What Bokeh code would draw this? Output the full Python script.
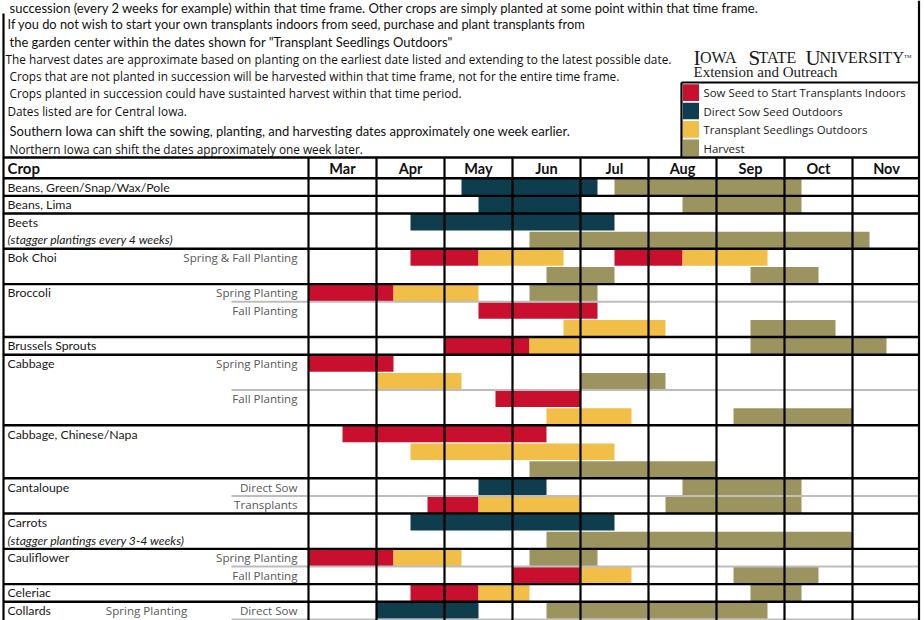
import numpy as np
from bokeh.plotting import figure
from bokeh.models import ColumnDataSource, Range1d
from bokeh.core.properties import value
from bokeh.embed import file_html
from bokeh.resources import INLINE

# ---------------- data ----------------
months = ["Mar", "Apr", "May", "Jun", "Jul", "Aug", "Sep", "Oct", "Nov"]
crops = ["Beans, Green/Snap/Wax/Pole", "Beans, Lima", "Beets", "Bok Choi", "Broccoli",
         "Brussels Sprouts", "Cabbage", "Cabbage, Chinese/Napa", "Cantaloupe", "Carrots",
         "Cauliflower", "Celeriac", "Collards"]
crop_rows = [1, 1, 2, 2, 3, 1, 4, 3, 2, 2, 2, 1, 2]

activities = ["Sow Seed to Start Transplants Indoors", "Direct Sow Seed Outdoors",
              "Transplant Seedlings Outdoors", "Harvest"]
activity_colors = ["#C8102E", "#0E3D4D", "#F1BE48", "#9B945F"]

sub_label_row = [4, 6, 7, 10, 12, 17, 18, 21, 22, 24]
sub_label_text = ["Spring & Fall Planting", "Spring Planting", "Fall Planting",
                  "Spring Planting", "Fall Planting", "Direct Sow", "Transplants",
                  "Spring Planting", "Fall Planting", "Direct Sow"]
season_row = [24]
season_text = ["Spring Planting"]
note_row = [3, 20]
note_text = ["(stagger plantings every 4 weeks)", "(stagger plantings every 3-4 weeks)"]
divider_row = [7, 12, 18, 22, 25]

# bars: sub-row, activity index, start / end in months after 1 March
bar_row = [0, 0, 1, 1, 2, 3,
           4, 4, 4, 4, 5, 5,
           6, 6, 6, 7, 8, 8,
           9, 9, 9,
           10, 11, 11, 12, 13, 13,
           14, 15, 16,
           17, 17, 18, 18, 18,
           19, 20,
           21, 21, 21, 22, 22, 22,
           23, 23, 23,
           24, 24]
bar_act = [1, 3, 1, 3, 1, 3,
           0, 2, 0, 2, 3, 3,
           0, 2, 3, 0, 2, 3,
           0, 2, 3,
           0, 2, 3, 0, 2, 3,
           0, 2, 3,
           1, 3, 0, 2, 3,
           1, 3,
           0, 2, 3, 0, 2, 3,
           0, 2, 3,
           1, 3]
bar_start = [2.25, 4.5, 2.5, 5.5, 1.5, 3.25,
             1.5, 2.5, 4.5, 5.5, 3.5, 6.5,
             0.0, 1.25, 3.25, 2.5, 3.75, 6.5,
             2.0, 3.25, 6.5,
             0.0, 1.0, 4.0, 2.75, 3.5, 6.25,
             0.5, 1.5, 3.25,
             2.5, 5.5, 1.75, 2.5, 5.25,
             1.5, 3.5,
             0.0, 1.25, 3.25, 3.0, 4.0, 6.25,
             1.5, 2.5, 6.5,
             1.0, 3.5]
bar_end = [4.25, 7.25, 4.0, 7.25, 4.5, 8.25,
           2.5, 3.75, 5.5, 6.75, 4.5, 7.5,
           1.25, 2.5, 4.25, 4.25, 5.25, 7.75,
           3.25, 4.0, 8.5,
           1.25, 2.25, 5.25, 4.0, 4.75, 8.0,
           3.5, 4.5, 6.0,
           3.5, 7.25, 2.5, 4.0, 7.25,
           4.5, 8.0,
           1.25, 2.25, 4.25, 4.0, 4.75, 7.5,
           2.5, 3.25, 7.25,
           2.5, 6.75]

intro_lines = [
    "succession (every 2 weeks for example) within that time frame. Other crops are simply planted at some point within that time frame.",
    "If you do not wish to start your own transplants indoors from seed, purchase and plant transplants from",
    " the garden center within the dates shown for \"Transplant Seedlings Outdoors\"",
    "The harvest dates are approximate based on planting on the earliest date listed and extending to the latest possible date.",
    " Crops that are not planted in succession will be harvested within that time frame, not for the entire time frame.",
    " Crops planted in succession could have sustainted harvest within that time period.",
    "Dates listed are for Central Iowa.",
    " Southern Iowa can shift the sowing, planting, and harvesting dates approximately one week earlier.",
    " Northern Iowa can shift the dates approximately one week later.",
]

# ---------------- layout ----------------
W, H = 924, 620
OFF = 0
X_MAR, MONTH_PX = 308.0, 68.0
ROW_TOP, ROW_PX = 177.7, 17.65


def fx(px):
    return (np.asarray(px, dtype=float) - X_MAR) / MONTH_PX


def fy(py):
    return (np.asarray(py, dtype=float) - ROW_TOP) / ROW_PX


p = figure(width=W, height=H, output_backend="svg", toolbar_location=None,
           x_range=Range1d(float(fx(OFF)), float(fx(OFF + W))),
           y_range=Range1d(float(fy(OFF + H)), float(fy(OFF))),
           x_axis_type=None, y_axis_type=None, min_border=0)
p.outline_line_color = None
p.background_fill_color = "white"
p.border_fill_color = "white"

# bars
bars = ColumnDataSource(dict(y=np.array(bar_row) + 0.5, left=bar_start, right=bar_end,
                             color=[activity_colors[a] for a in bar_act]))
p.hbar(y="y", left="left", right="right", height=0.93, fill_color="color",
       line_color=None, source=bars)

# gray planting dividers
p.segment(x0=float(fx(231)), x1=float(fx(919)), y0=divider_row, y1=divider_row,
          line_color="#BDBDBD", line_width=2)

# vertical month lines and outer borders
mx = list(range(len(months)))
p.segment(x0=mx, x1=mx, y0=float(fy(157)), y1=float(fy(640)), line_color="black", line_width=2.2)
p.segment(x0=[float(fx(918.5)), float(fx(3))], x1=[float(fx(918.5)), float(fx(3))],
          y0=[float(fy(0)), float(fy(13))], y1=[float(fy(640)), float(fy(640))],
          line_color="black", line_width=2.2)

# horizontal crop lines
ends = np.cumsum(crop_rows)
starts = ends - np.array(crop_rows)
hy = [float(fy(157))] + [float(s) for s in starts]
p.segment(x0=float(fx(3)), x1=float(fx(919)), y0=hy, y1=hy, line_color="black", line_width=2.4)

# legend box
p.segment(x0=[float(fx(681)), float(fx(681))], x1=[float(fx(919)), float(fx(681))],
          y0=[float(fy(82)), float(fy(82))], y1=[float(fy(82)), float(fy(157))],
          line_color="black", line_width=2.2)
leg_top = np.array([83.8, 102.2, 120.6, 139.0])
p.quad(left=float(fx(682.5)), right=float(fx(698.5)), top=fy(leg_top), bottom=fy(leg_top + 16.6),
       fill_color=activity_colors, line_color=None)
p.text(x=float(fx(703)), y=fy(leg_top + 8.6), text=activities, text_font=value("Open Sans"),
       text_font_size="11.4px", text_baseline="middle", text_color="#1a1a1a")

# header
p.text(x=np.arange(len(months)) + 0.5, y=float(fy(167.5)), text=months, text_font=value("Lato"),
       text_font_style="bold", text_font_size="14.5px", text_align="center",
       text_baseline="middle", text_color="#111111")
p.text(x=[float(fx(7))], y=[float(fy(167.5))], text=["Crop"], text_font=value("Lato"),
       text_font_style="bold", text_font_size="15px", text_baseline="middle",
       text_color="#111111")

# crop names & labels
p.text(x=float(fx(7)), y=starts + 0.5, text=crops, text_font=value("Lato"),
       text_font_size="12.3px", text_baseline="middle", text_color="#1a1a1a")
p.text(x=float(fx(297)), y=np.array(sub_label_row) + 0.5, text=sub_label_text,
       text_font=value("Open Sans"), text_font_size="11.6px", text_align="right",
       text_baseline="middle", text_color="#595959")
p.text(x=float(fx(146)), y=np.array(season_row) + 0.5, text=season_text,
       text_font=value("Open Sans"), text_font_size="11.6px", text_align="center",
       text_baseline="middle", text_color="#595959")
p.text(x=float(fx(7)), y=np.array(note_row) + 0.5, text=note_text, text_font=value("Lato"),
       text_font_style="italic", text_font_size="12.2px", text_baseline="middle",
       text_color="#1a1a1a")

# intro text
intro_x = [9, 7, 9, 5, 9, 9, 7, 9, 9]
intro_y = [7.5, 23.5, 41, 58, 75, 92.7, 110, 130, 148]
intro_size = [13, 12.8, 13, 11.8, 11.8, 11.8, 11.8, 13, 11.8]
intro_big = [True, True, True, False, False, False, False, True, False]
for t, x, y, s, big in zip(intro_lines, intro_x, intro_y, intro_size, intro_big):
    p.text(x=[float(fx(x))], y=[float(fy(y))], text=[t],
           text_font=value("Lato" if big else "Open Sans"),
           text_font_size=f"{s}px", text_baseline="middle", text_color="#111111")

# logo
logo = [("I", 693, 21), ("OWA", 699.5, 16), ("S", 748, 21), ("TATE", 758, 16),
        ("U", 805, 21), ("NIVERSITY", 819, 16)]
for t, x, s in logo:
    p.text(x=[float(fx(x))], y=[float(fy(57))], text=[t], text_font=value("Liberation Serif"),
           text_font_size=f"{s}px", text_baseline="alphabetic", text_color="#1a1a1a")
p.text(x=[float(fx(903.5))], y=[float(fy(56))], text=["TM"], text_font=value("Liberation Serif"),
       text_font_size="5px", text_baseline="alphabetic", text_color="#1a1a1a")
p.text(x=[float(fx(693))], y=[float(fy(71))], text=["Extension and Outreach"],
       text_font=value("Liberation Serif"), text_font_size="15px",
       text_baseline="alphabetic", text_color="#1a1a1a")

open("out.html", "w").write(file_html(p, INLINE))
